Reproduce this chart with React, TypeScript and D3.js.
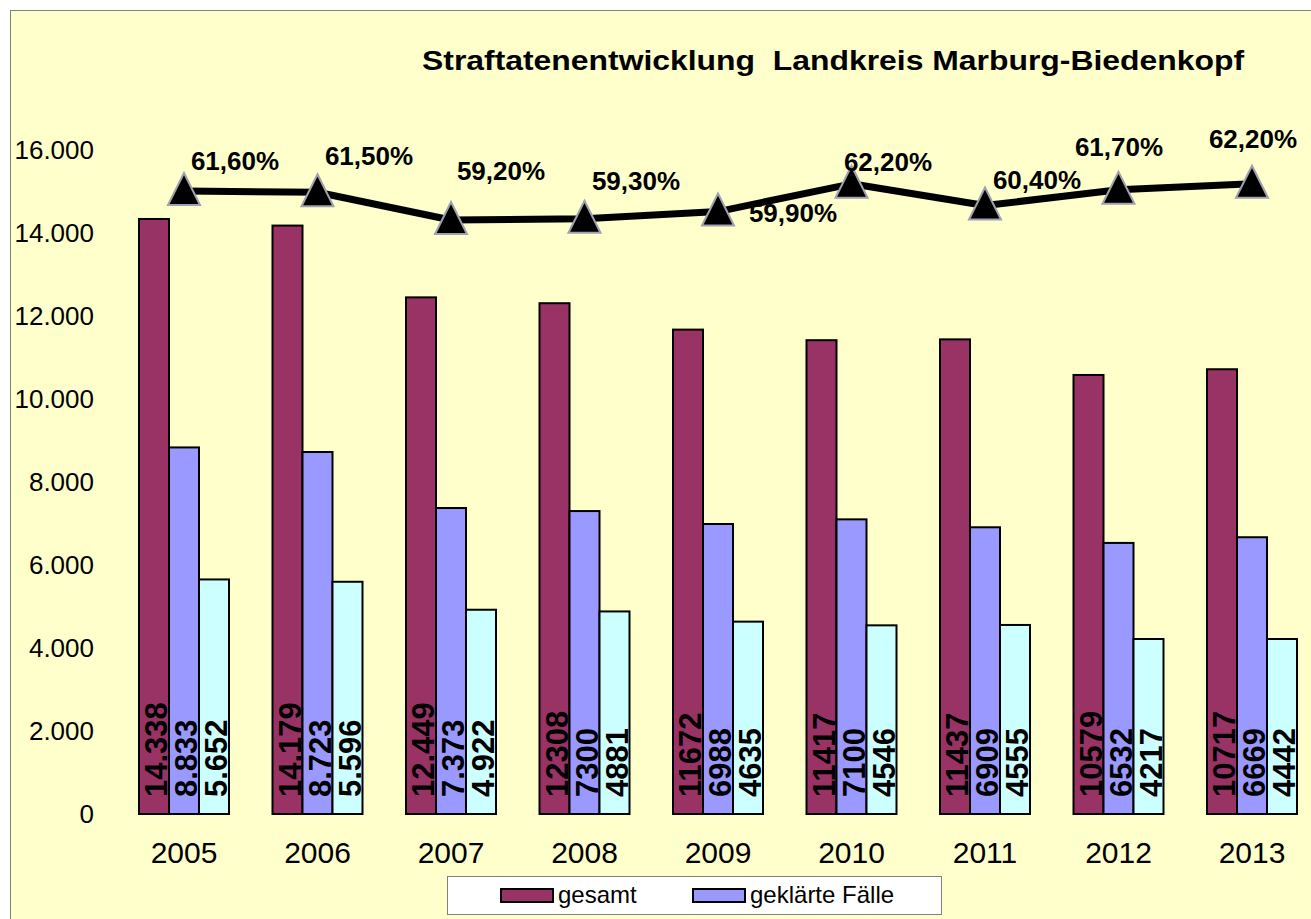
import { useEffect, useRef } from "react";
import * as d3 from "d3";

const years = ["2005", "2006", "2007", "2008", "2009", "2010", "2011", "2012", "2013"];

const gesamt = [14338, 14179, 12449, 12308, 11672, 11417, 11437, 10579, 10717];
const geklaert = [8833, 8723, 7373, 7300, 6988, 7100, 6909, 6532, 6669];
const dritte = [5652, 5596, 4922, 4881, 4635, 4546, 4555, 4217, 4217];

const gesamtLabels = ["14.338", "14.179", "12.449", "12308", "11672", "11417", "11437", "10579", "10717"];
const geklaertLabels = ["8.833", "8.723", "7.373", "7300", "6988", "7100", "6909", "6532", "6669"];
const dritteLabels = ["5.652", "5.596", "4.922", "4881", "4635", "4546", "4555", "4217", "4442"];

const quote = [61.6, 61.5, 59.2, 59.3, 59.9, 62.2, 60.4, 61.7, 62.2];
const quoteLabels = ["61,60%", "61,50%", "59,20%", "59,30%", "59,90%", "62,20%", "60,40%", "61,70%", "62,20%"];
// where each percentage label sits relative to its marker
const quoteLabelOffsets = [
    [51, -21], [51.5, -27], [50, -40], [51.5, -29], [75, 10],
    [36.5, -13], [52, -16.5], [0.5, -33.6], [1, -36],
];

const yTicks = [0, 2000, 4000, 6000, 8000, 10000, 12000, 14000, 16000];

const seriesNames = ["gesamt", "geklärte Fälle", "dritte"];
const seriesColors = ["#993366", "#9999FF", "#CCFFFF"];

const FONT = "'Liberation Sans', Arial, Helvetica, sans-serif";

export default function App() {
    const svgRef = useRef<SVGSVGElement>(null);

    useEffect(() => {
        const width = 1311;
        const height = 919;
        const svg = d3.select(svgRef.current);
        svg.selectAll("*").remove();
        svg.attr("width", width).attr("height", height).style("font-family", FONT);

        svg.append("rect").attr("width", width).attr("height", height).attr("fill", "#ffffff");
        svg.append("rect")
            .attr("x", 10.5).attr("y", 10.5)
            .attr("width", width).attr("height", height)
            .attr("fill", "#FFFFCC")
            .attr("stroke", "#808080").attr("stroke-width", 1);

        const plotLeft = 117.25;
        const plotRight = 1318.75;
        const plotTop = 150;
        const plotBottom = 814;

        const x = d3.scaleBand().domain(years).range([plotLeft, plotRight]).padding(0);
        const inner = d3.scaleBand<number>().domain([0, 1, 2]).range([0, x.bandwidth()])
            .paddingInner(0).paddingOuter(0.725);
        const y = d3.scaleLinear().domain([0, 16000]).range([plotBottom, plotTop]);
        const yPct = d3.scaleLinear().domain([10, 65]).range([plotBottom, plotTop]);

        const de = d3.formatLocale({ decimal: ",", thousands: ".", grouping: [3], currency: ["", " €"] });
        const fmt = de.format(",d");

        // title
        svg.append("text")
            .attr("x", 422).attr("y", 70)
            .attr("font-size", 28).attr("font-weight", "bold")
            .attr("textLength", 822).attr("lengthAdjust", "spacingAndGlyphs")
            .style("white-space", "pre")
            .text("Straftatenentwicklung  Landkreis Marburg-Biedenkopf");

        // y axis labels
        svg.append("g").selectAll("text").data(yTicks).join("text")
            .attr("x", 94).attr("y", (d) => y(d))
            .attr("dy", "0.36em")
            .attr("text-anchor", "end")
            .attr("font-size", 26)
            .text((d) => fmt(d));

        // x axis labels
        svg.append("g").selectAll("text").data(years).join("text")
            .attr("x", (d) => (x(d) as number) + x.bandwidth() / 2)
            .attr("y", 863)
            .attr("text-anchor", "middle")
            .attr("font-size", 30)
            .text((d) => d);

        const series = [gesamt, geklaert, dritte];
        const seriesLabels = [gesamtLabels, geklaertLabels, dritteLabels];
        const bw = inner.bandwidth();

        series.forEach((values, s) => {
            const g = svg.append("g");
            g.selectAll("rect").data(values).join("rect")
                .attr("x", (_, i) => (x(years[i]) as number) + (inner(s) as number))
                .attr("y", (d) => y(d))
                .attr("width", bw)
                .attr("height", (d) => plotBottom - y(d))
                .attr("fill", seriesColors[s])
                .attr("stroke", "#000").attr("stroke-width", 2);
        });

        series.forEach((values, s) => {
            svg.append("g").selectAll("text").data(values).join("text")
                .attr("transform", (_, i) => {
                    const bx = (x(years[i]) as number) + (inner(s) as number) + bw - 2;
                    return `translate(${bx},${plotBottom - 17}) rotate(-90)`;
                })
                .attr("font-size", 31).attr("font-weight", "bold")
                .attr("fill", "#000")
                .text((_, i) => seriesLabels[s][i]);
        });

        // quote line
        const cx = (i: number) => (x(years[i]) as number) + x.bandwidth() / 2;
        const line = d3.line<number>().x((_, i) => cx(i)).y((d) => yPct(d));
        svg.append("path").datum(quote)
            .attr("d", line)
            .attr("fill", "none").attr("stroke", "#000").attr("stroke-width", 7)
            .attr("stroke-linejoin", "round");

        svg.append("g").selectAll("path").data(quote).join("path")
            .attr("d", (d, i) => {
                const px = cx(i);
                const py = yPct(d);
                return `M${px},${py - 18}L${px + 16},${py + 14}L${px - 16},${py + 14}Z`;
            })
            .attr("fill", "#000").attr("stroke", "#A0A0B0").attr("stroke-width", 2);

        svg.append("g").selectAll("text").data(quote).join("text")
            .attr("x", (_, i) => cx(i) + quoteLabelOffsets[i][0])
            .attr("y", (d, i) => yPct(d) + quoteLabelOffsets[i][1])
            .attr("text-anchor", "middle")
            .attr("font-size", 26).attr("font-weight", "bold")
            .text((_, i) => quoteLabels[i]);

        // legend
        const legend = svg.append("g");
        legend.append("rect")
            .attr("x", 447.5).attr("y", 876.5).attr("width", 494).attr("height", 38)
            .attr("fill", "#fff").attr("stroke", "#808080").attr("stroke-width", 1);
        const legendX = [501, 693];
        [0, 1].forEach((s) => {
            legend.append("rect")
                .attr("x", legendX[s]).attr("y", 889).attr("width", 52).attr("height", 13)
                .attr("fill", seriesColors[s]).attr("stroke", "#000").attr("stroke-width", 2);
            legend.append("text")
                .attr("x", legendX[s] + 57).attr("y", 903)
                .attr("font-size", 24)
                .text(seriesNames[s]);
        });
    }, []);

    return (
        <div style={{ position: "absolute", left: 0, top: 0, width: 1311, height: 919, overflow: "hidden" }}>
            <svg ref={svgRef} style={{ display: "block" }} />
        </div>
    );
}
